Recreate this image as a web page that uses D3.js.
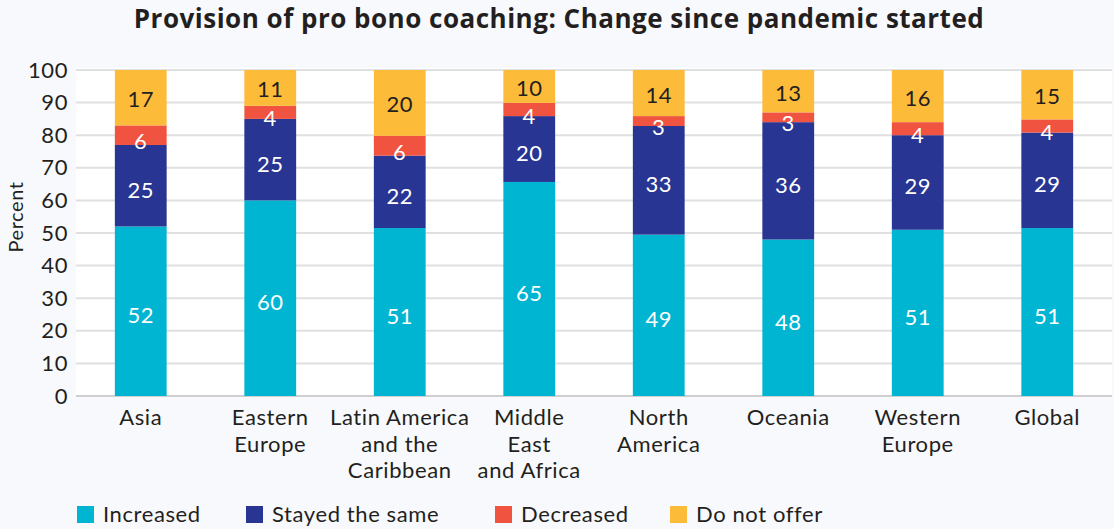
<!DOCTYPE html>
<html>
<head>
<meta charset="utf-8">
<script src="https://cdn.jsdelivr.net/npm/d3@7"></script>
<style>
  html, body { margin: 0; padding: 0; background: #f8f9fc; }
  svg { display: block; }
  text { font-family: "Lato", "Open Sans", sans-serif; fill: #231f20; letter-spacing: 0.6px; }
  text.title { font-family: "Open Sans", "Lato", sans-serif; letter-spacing: 0.5px; }
</style>
</head>
<body>
<svg id="chart" width="1114" height="529"></svg>
<script>
// Regions along the x axis (multi-line labels split on "|")
const regions = [
  "Asia",
  "Eastern|Europe",
  "Latin America|and the|Caribbean",
  "Middle|East|and Africa",
  "North|America",
  "Oceania",
  "Western|Europe",
  "Global"
];

// Share of respondents (percent) per response
const increased   = [52, 60, 51, 65, 49, 48, 51, 51];
const stayedSame  = [25, 25, 22, 20, 33, 36, 29, 29];
const decreased   = [6, 4, 6, 4, 3, 3, 4, 4];
const doNotOffer  = [17, 11, 20, 10, 14, 13, 16, 15];

const seriesNames = ["Increased", "Stayed the same", "Decreased", "Do not offer"];
const seriesColors = ["#00b5d2", "#283593", "#f05340", "#fdbb3a"];
const labelColors = ["#ffffff", "#ffffff", "#ffffff", "#231f20"];
const labelShift = [12, 12, 14, 9.5];

const yTicks = [0, 10, 20, 30, 40, 50, 60, 70, 80, 90, 100];

const seriesValues = [increased, stayedSame, decreased, doNotOffer];
const rows = regions.map((r, i) => {
  const row = { region: r };
  seriesNames.forEach((s, k) => row[s] = seriesValues[k][i]);
  return row;
});

const svg = d3.select("#chart");
const margin = { top: 70, right: 2, bottom: 133, left: 76 };
const W = 1114, H = 529;
const plotW = W - margin.left - margin.right;
const plotH = H - margin.top - margin.bottom;
const FS = 22;

const x = d3.scaleBand().domain(regions).range([margin.left, margin.left + plotW]).paddingInner(0.6).paddingOuter(0.3);
const y = d3.scaleLinear().domain([0, 100]).range([margin.top + plotH, margin.top]);

// White plot panel
svg.append("rect")
  .attr("x", margin.left).attr("y", margin.top - 2)
  .attr("width", plotW).attr("height", plotH + 2)
  .attr("fill", "#ffffff");

// Title
svg.append("text")
  .attr("class", "title")
  .attr("x", 559).attr("y", 28)
  .attr("text-anchor", "middle")
  .attr("font-size", 26).attr("font-weight", "bold")
  .text("Provision of pro bono coaching: Change since pandemic started");

// Gridlines
svg.append("g").selectAll("line").data(yTicks).join("line")
  .attr("x1", margin.left).attr("x2", margin.left + plotW)
  .attr("y1", d => y(d)).attr("y2", d => y(d))
  .attr("stroke", d => d === 0 ? "#cfcfcf" : "#e0e0e0")
  .attr("stroke-width", 2);

// Y axis tick labels
const yAxis = d3.axisLeft(y).tickValues(yTicks).tickSize(0).tickPadding(8);
const gy = svg.append("g").attr("transform", `translate(${margin.left},0)`).call(yAxis);
gy.select(".domain").remove();
gy.selectAll("text").attr("font-size", FS).attr("fill", "#231f20")
  .style("font-family", "Lato, 'Open Sans', sans-serif");

// Y axis title
svg.append("text")
  .attr("transform", `translate(23,217) rotate(-90)`)
  .attr("text-anchor", "middle")
  .attr("font-size", 20)
  .text("Percent");

// Stacked bars, each region's responses shown as shares of 100%
const stack = d3.stack().keys(seriesNames).offset(d3.stackOffsetExpand);
const layers = stack(rows);
const pct = v => y(v * 100);

const gBars = svg.append("g");
layers.forEach((layer, k) => {
  gBars.append("g").selectAll("rect").data(layer).join("rect")
    .attr("x", d => x(d.data.region))
    .attr("width", x.bandwidth())
    .attr("y", d => pct(d[1]))
    .attr("height", d => pct(d[0]) - pct(d[1]))
    .attr("fill", seriesColors[k]);
});

// Segment value labels
layers.forEach((layer, k) => {
  gBars.append("g").selectAll("text").data(layer).join("text")
    .attr("x", d => x(d.data.region) + x.bandwidth() / 2)
    .attr("y", d => (pct(d[0]) + pct(d[1])) / 2 + labelShift[k])
    .attr("text-anchor", "middle")
    .attr("font-size", FS)
    .style("fill", labelColors[k])
    .text(d => d.data[seriesNames[k]]);
});

// X axis category labels
const gx = svg.append("g");
regions.forEach(r => {
  const t = gx.append("text")
    .attr("x", x(r) + x.bandwidth() / 2)
    .attr("y", 425)
    .attr("text-anchor", "middle")
    .attr("font-size", FS);
  r.split("|").forEach((line, i) => {
    t.append("tspan").attr("x", x(r) + x.bandwidth() / 2)
      .attr("dy", i === 0 ? 0 : 26.6).text(line);
  });
});

// Legend
const legendX = [77, 246, 495, 670];
const legend = svg.append("g");
seriesNames.forEach((s, k) => {
  legend.append("rect")
    .attr("x", legendX[k]).attr("y", 506)
    .attr("width", 17).attr("height", 17)
    .attr("fill", seriesColors[k]);
  legend.append("text")
    .attr("x", legendX[k] + 26).attr("y", 522)
    .attr("font-size", FS)
    .text(s);
});
</script>
</body>
</html>
